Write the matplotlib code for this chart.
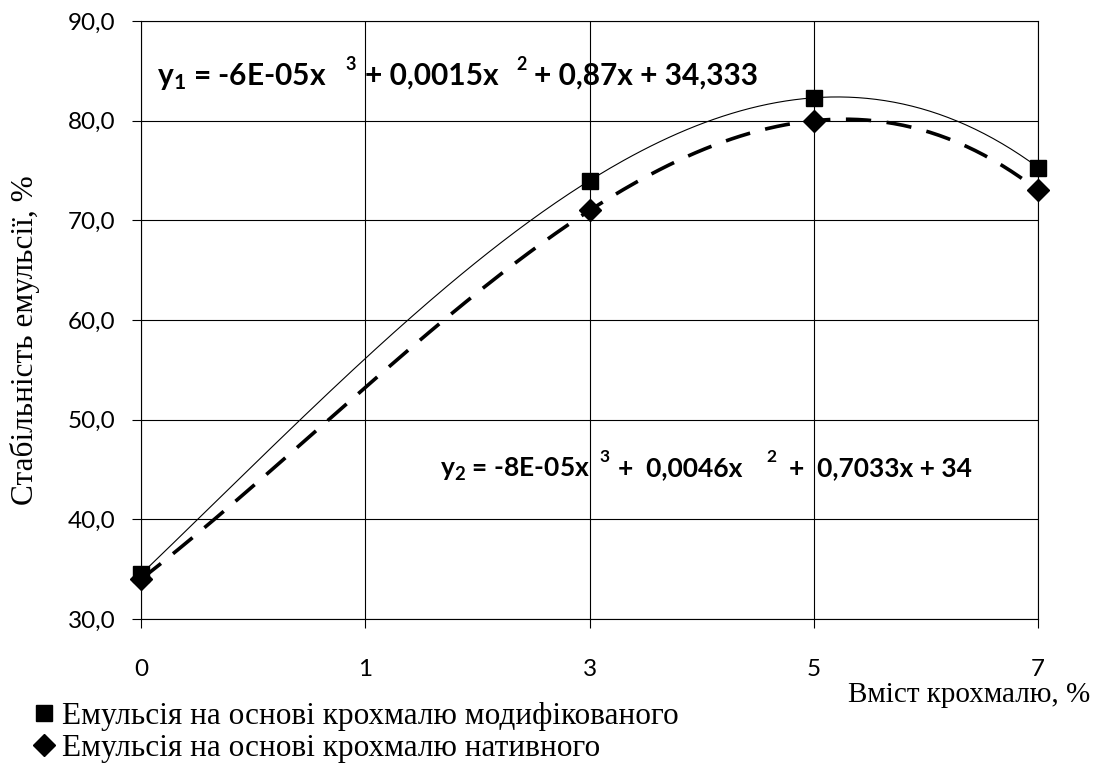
import matplotlib.pyplot as plt
import numpy as np
from matplotlib.lines import Line2D

plt.rcParams['mathtext.fontset'] = 'custom'
plt.rcParams['mathtext.rm'] = 'Lato:bold'
plt.rcParams['mathtext.it'] = 'Lato:bold'
plt.rcParams['mathtext.bf'] = 'Lato:bold'

# дані
x_labels = ['0', '1', '3', '5', '7']
x_pos = [0, 2, 3, 4]          # позиції категорій, де є точки
modified = [34.5, 74.0, 82.3, 75.3]
native = [34.0, 71.0, 80.0, 73.0]
y_ticks = [30, 40, 50, 60, 70, 80, 90]

fig = plt.figure(figsize=(10.94, 7.65), dpi=100)
ax = fig.add_axes([0.129, 0.1908, 0.820, 0.7817])

# лінії тренду (поліном 3-го степеня)
xx = np.linspace(0, 4, 200)
p1 = np.polyfit(x_pos, modified, 3)
p2 = np.polyfit(x_pos, native, 3)
ax.plot(xx, np.polyval(p1, xx), color='black', lw=0.8, zorder=3)
ax.plot(xx, np.polyval(p2, xx), color='black', lw=2.6, dashes=(7, 4.3), zorder=3)

ax.plot(x_pos, modified, 's', color='black', ms=12, zorder=4, clip_on=False)
ax.plot(x_pos, native, 'D', color='black', ms=11, zorder=4, clip_on=False)

ax.set_xlim(0, 4)
ax.set_ylim(30, 90)
ax.set_xticks(range(len(x_labels)))
ax.set_xticklabels(x_labels)
ax.set_yticks(y_ticks)
ax.set_yticklabels([f'{v:.1f}'.replace('.', ',') for v in y_ticks])
ax.grid(True, color='black', lw=0.8)
for s in ax.spines.values():
    s.set_linewidth(0.8)
ax.tick_params(direction='out', length=6.5, width=0.8, labelsize=17.5)
ax.tick_params(axis='y', pad=12)
ax.tick_params(axis='x', pad=22)
for lab in ax.get_xticklabels() + ax.get_yticklabels():
    lab.set_family('Lato')

# рівняння трендів: частини тексту + верхні індекси
eq1 = [(0.071, r'$\mathrm{y_1}$ = -6E-05x'), (1.0, '+ 0,0015x'), (1.752, '+ 0,87x + 34,333')]
eq1_sup = [(0.91, '3'), (1.672, '2')]
eq2 = [(1.333, r'$\mathrm{y_2}$ = -8E-05x'), (2.127, '+  0,0046x'), (2.89, '+  0,7033x + 34')]
eq2_sup = [(2.042, '3'), (2.79, '2')]

for xp, s in eq1:
    ax.text(xp, 83.6, s, fontsize=21.5, fontweight='bold', family='Lato', va='baseline')
for xp, s in eq1_sup:
    ax.text(xp, 85.1, s, fontsize=13, fontweight='bold', family='Lato', va='baseline')
for xp, s in eq2:
    ax.text(xp, 44.3, s, fontsize=19, fontweight='bold', family='Lato', va='baseline')
for xp, s in eq2_sup:
    ax.text(xp, 45.8, s, fontsize=12.5, fontweight='bold', family='Lato', va='baseline')

fig.text(0.023, 0.555, 'Стабільність емульсії, %', family='Liberation Serif', fontsize=22.5,
         rotation=90, ha='center', va='center')
fig.text(0.997, 0.092, 'Вміст крохмалю, %', family='Liberation Serif', fontsize=21,
         ha='right', va='center')

handles = [Line2D([], [], marker='s', color='black', ls='none', ms=12),
           Line2D([], [], marker='D', color='black', ls='none', ms=11)]
fig.legend(handles, ['Емульсія на основі крохмалю модифікованого',
                     'Емульсія на основі крохмалю нативного'],
           loc='lower left', bbox_to_anchor=(0.012, -0.026), frameon=False,
           prop={'family': 'Liberation Serif', 'size': 22.5},
           handlelength=0.6, handletextpad=0.25, labelspacing=0.1, borderpad=0.2)

fig.savefig('out.png', dpi=100)
